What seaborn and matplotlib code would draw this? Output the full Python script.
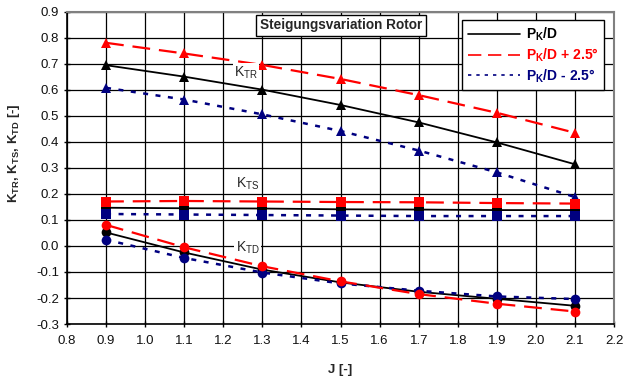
import numpy as np
import pandas as pd
import matplotlib
matplotlib.use("Agg")
import matplotlib.pyplot as plt
from matplotlib.lines import Line2D
import seaborn as sns

J = [0.9, 1.1, 1.3, 1.5, 1.7, 1.9, 2.1]

ktr_base = [0.695, 0.651, 0.601, 0.542, 0.475, 0.398, 0.314]
ktr_plus = [0.781, 0.740, 0.696, 0.642, 0.580, 0.512, 0.435]
ktr_minus = [0.608, 0.563, 0.506, 0.442, 0.367, 0.283, 0.188]

kts_base = [0.147, 0.145, 0.144, 0.141, 0.140, 0.138, 0.138]
kts_plus = [0.171, 0.173, 0.171, 0.169, 0.168, 0.165, 0.163]
kts_minus = [0.123, 0.121, 0.119, 0.117, 0.115, 0.115, 0.115]

ktd_base = [0.052, -0.025, -0.091, -0.140, -0.176, -0.203, -0.230]
ktd_plus = [0.081, -0.005, -0.078, -0.136, -0.185, -0.222, -0.252]
ktd_minus = [0.024, -0.046, -0.102, -0.144, -0.172, -0.194, -0.204]

variants = ["P$_\\mathregular{K}$/D", "P$_\\mathregular{K}$/D + 2.5°", "P$_\\mathregular{K}$/D - 2.5°"]
coefs = ["KTR", "KTS", "KTD"]

rows = []
for coef, series in zip(coefs, [(ktr_base, ktr_plus, ktr_minus),
                                (kts_base, kts_plus, kts_minus),
                                (ktd_base, ktd_plus, ktd_minus)]):
    for var, vals in zip(variants, series):
        for j, v in zip(J, vals):
            rows.append({"J": j, "K": v, "coef": coef, "variant": var})
df = pd.DataFrame(rows)

sns.set_theme(style="white")
plt.rcParams["font.family"] = ["Liberation Sans", "DejaVu Sans"]
plt.rcParams["mathtext.fontset"] = "custom"
plt.rcParams["mathtext.rm"] = "Liberation Sans"
plt.rcParams["mathtext.bf"] = "Liberation Sans:bold"

fig = plt.figure(figsize=(6.26, 3.83), dpi=100)
ax = fig.add_axes([0.107, 0.154, 0.874, 0.815])

colors = {variants[0]: "black", variants[1]: "#ff0000", variants[2]: "#000080"}
dashes = {variants[0]: "-", variants[1]: (0, (8, 4)), variants[2]: (0, (2, 3))}
markers = {"KTR": "^", "KTS": "s", "KTD": "o"}
widths = {variants[0]: 1.3, variants[1]: 1.6, variants[2]: 1.8}

order = [variants[0], variants[2], variants[1]]
for coef in coefs:
    for var in order:
        sub = df[(df.coef == coef) & (df.variant == var)]
        sns.lineplot(data=sub, x="J", y="K", ax=ax, color=colors[var],
                     linestyle=dashes[var], linewidth=widths[var],
                     marker=markers[coef], markersize=7, markeredgewidth=0,
                     zorder=3, legend=False)

ax.set_xlim(0.8, 2.2)
ax.set_ylim(-0.3, 0.9)
ax.set_xticks(np.round(np.arange(0.8, 2.21, 0.1), 1))
ax.set_yticks(np.round(np.arange(-0.3, 0.91, 0.1), 1))
ax.xaxis.set_major_formatter(matplotlib.ticker.FormatStrFormatter("%.1f"))
ax.yaxis.set_major_formatter(matplotlib.ticker.FormatStrFormatter("%.1f"))
ax.grid(True, color="black", linewidth=0.9)
ax.set_axisbelow(True)
ax.tick_params(axis="both", labelsize=9.5, length=4, width=1, direction="inout",
               left=True, bottom=True, colors="black", labelcolor="#111111")
ax.tick_params(axis="x", pad=6)
for s in ["left", "bottom"]:
    ax.spines[s].set_color("black")
    ax.spines[s].set_linewidth(1.2)
for s in ["top", "right"]:
    ax.spines[s].set_color("#808080")
    ax.spines[s].set_linewidth(1.5)

ax.set_xlabel("J [-]", fontsize=9.5, fontweight="bold")
ax.xaxis.set_label_coords(0.499, -0.128)
ax.set_ylabel(r"K$_{\mathregular{TR}}$, K$_{\mathregular{TS}}$, K$_{\mathregular{TD}}$ [-]",
              fontsize=9.5, fontweight="bold")
ax.yaxis.set_label_coords(-0.082, 0.548)

box = dict(facecolor="white", edgecolor="none", pad=1)
ax.text(1.258, 0.667, r"K$_{\mathregular{TR}}$", fontsize=10, ha="center", va="center", bbox=box, zorder=4)
ax.text(1.262, 0.240, r"K$_{\mathregular{TS}}$", fontsize=10, ha="center", va="center", bbox=box, zorder=4)
ax.text(1.262, -0.008, r"K$_{\mathregular{TD}}$", fontsize=10, ha="center", va="center", bbox=box, zorder=4)

ax.text(1.501, 0.849, "Steigungsvariation Rotor", fontsize=9.8, fontweight="bold",
        ha="center", va="center", zorder=5,
        bbox=dict(facecolor="white", edgecolor="black", linewidth=1, pad=2.5))

lh = [Line2D([], [], color=colors[v], linestyle=dashes[v], linewidth=1.2) for v in variants]
leg = ax.legend(lh, variants, loc="upper right", bbox_to_anchor=(0.982, 0.974),
                frameon=True, fancybox=False, framealpha=1, edgecolor="black",
                fontsize=10, handlelength=3.8, handletextpad=0.4, borderpad=0.4,
                labelspacing=0.25, borderaxespad=0)
leg.get_frame().set_linewidth(1.0)
for t, v in zip(leg.get_texts(), variants):
    t.set_color(colors[v])
    t.set_fontweight("bold")
leg.set_zorder(6)

fig.savefig("out.png", dpi=100, facecolor="white")
